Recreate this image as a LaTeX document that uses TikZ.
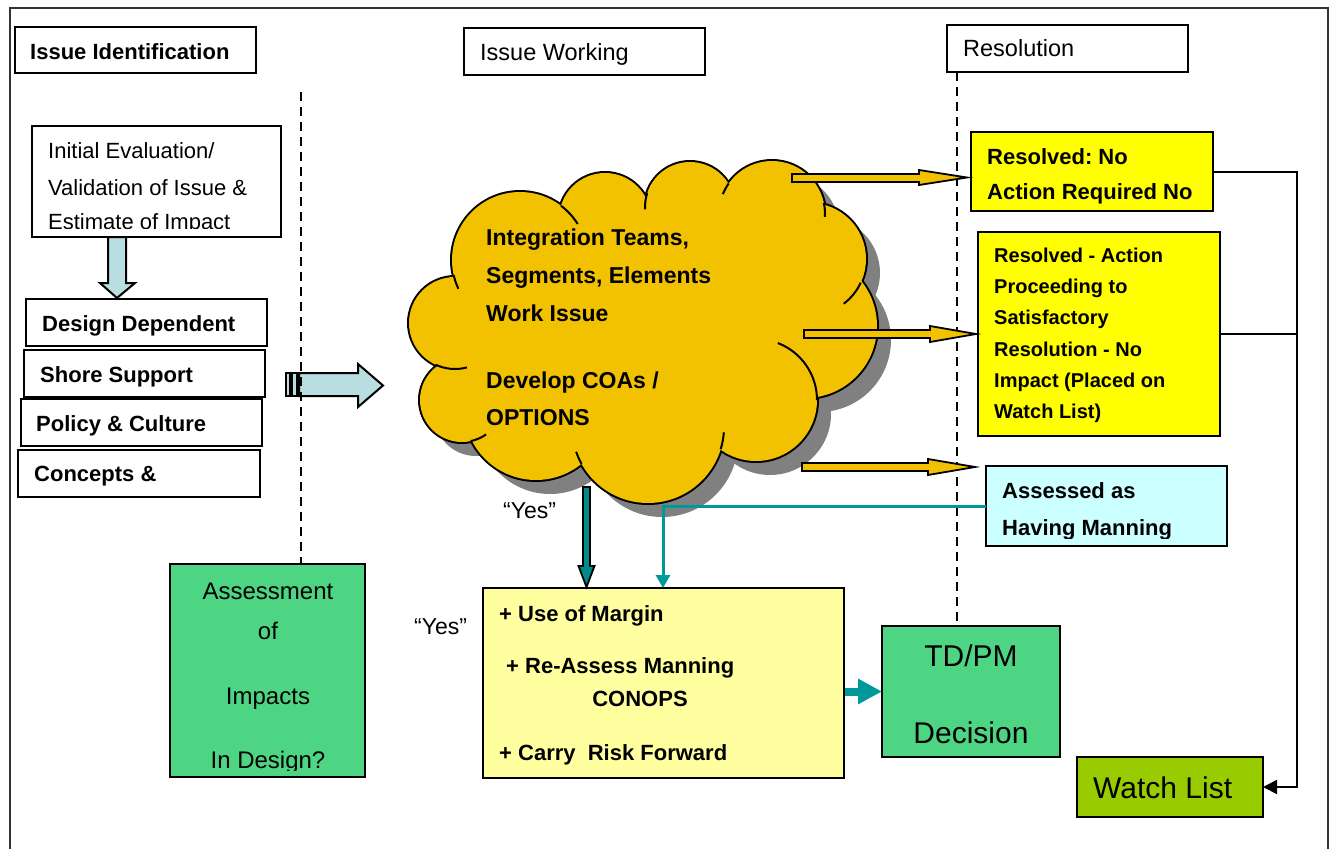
\documentclass[tikz,border=0pt]{standalone}
\usepackage{fontspec}
\setmainfont{Liberation Sans}
\usetikzlibrary{arrows.meta}
\definecolor{cloudgold}{HTML}{F2C200}
\definecolor{cloudgrey}{HTML}{808080}
\definecolor{paleblue}{HTML}{B8DEE2}
\definecolor{midgreen}{HTML}{4DD584}
\definecolor{wlgreen}{HTML}{99CC00}
\definecolor{paleyel}{HTML}{FFFFA0}
\definecolor{paleaqua}{HTML}{CCFFFF}
\definecolor{brightyel}{HTML}{FFFF00}
\definecolor{teallight}{HTML}{009999}
\definecolor{tealdark}{HTML}{008B8B}
\frenchspacing
\begin{document}
\begin{tikzpicture}[x=1pt,y=-1pt,
  bx/.style={draw=black,line width=2pt,inner sep=0pt,outer sep=0pt,anchor=north west},
  tl/.style={inner sep=0pt,anchor=base west},
  tc/.style={inner sep=0pt,anchor=base},
  fb22/.style={font=\fontsize{22}{26}\selectfont\bfseries},
  fb23/.style={font=\fontsize{23}{27}\selectfont\bfseries},
  fb20/.style={font=\fontsize{20}{24}\selectfont\bfseries},
  fr22/.style={font=\fontsize{22}{26}\selectfont},
  fr23/.style={font=\fontsize{23}{27}\selectfont},
  fr235/.style={font=\fontsize{23.5}{27}\selectfont},
  fr24/.style={font=\fontsize{24}{28}\selectfont},
  fr30/.style={font=\fontsize{30}{34}\selectfont},
  dashline/.style={line width=2pt,dash pattern=on 9pt off 6pt},
  blockarrow/.style={draw=black,line width=2pt,miter limit=4},
  goldarrow/.style={fill=cloudgold,draw=black,line width=1.8pt},
  wire/.style={draw=black,line width=2pt},
]
\useasboundingbox (0,0) rectangle (1332,848);

% outer frame
\draw[line width=2pt,black!80] (10,870) -- (10,8) -- (1328,8) -- (1328,870);

% phase headers
\node[bx,minimum width=241pt,minimum height=46pt] (hId) at (15,27) {};
\node[tl,fb22] (hIdT) at (30,60) {Issue Identification};
\node[bx,minimum width=241pt,minimum height=47pt] (hWk) at (464,28) {};
\node[tl,fr235] (hWkT) at (480,61) {Issue Working};
\node[bx,minimum width=241pt,minimum height=47pt] (hRs) at (947,25) {};
\node[tl,fr235] (hRsT) at (963,57) {Resolution};

% phase separators
\coordinate (dashL) at (301,92);
\coordinate (dashR) at (957,72);

% issue identification column
\node[bx,minimum width=249pt,minimum height=111pt] (init) at (32,126) {};
\node[tl,fr22] (initA) at (48,158) {Initial Evaluation/};
\node[tl,fr22] (initB) at (48,195) {Validation of Issue \&};
\begin{scope}
  \clip (32,126) rectangle (281,228);
  \node[tl,fr22] (initC) at (48,229) {Estimate of Impact};
\end{scope}

\draw[blockarrow,fill=paleblue] (108,237) -- (126,237) -- (126,283) -- (135,283)
  -- (117,298) -- (100,283) -- (108,283) -- cycle;

\node[bx,minimum width=241pt,minimum height=47pt] (sDes) at (26,299) {};
\node[tl,fb22] (sDesT) at (42,331) {Design Dependent};
\node[bx,minimum width=241pt,minimum height=47pt] (sSho) at (24,350) {};
\node[tl,fb22] (sShoT) at (40,382) {Shore Support};
\node[bx,minimum width=241pt,minimum height=47pt] (sPol) at (21,399) {};
\node[tl,fb22] (sPolT) at (36,431) {Policy \& Culture};
\node[bx,minimum width=242pt,minimum height=47pt] (sCon) at (18,450) {};
\node[tl,fb22] (sConT) at (34,481) {Concepts \&};

% striped arrow into the working phase
\draw[blockarrow,fill=paleblue] (286,373) rectangle (290,396);
\draw[blockarrow,fill=paleblue] (292,373) rectangle (297,396);
\draw[blockarrow,fill=paleblue] (299,373) -- (358,373) -- (358,364) -- (383,385.5)
  -- (358,407) -- (358,396) -- (299,396) -- cycle;

% assessment box
\node[bx,fill=midgreen,minimum width=195pt,minimum height=213pt] (asmt) at (170,564) {};
\node[tc,fr24] (asmtA) at (268,599) {Assessment};
\node[tc,fr24] (asmtB) at (268,639) {of};
\node[tc,fr24] (asmtC) at (268,704) {Impacts};
\begin{scope}
  \clip (170,564) rectangle (365,770);
  \node[tc,fr24] (asmtD) at (268,768) {In Design?};
\end{scope}

\draw[dashline] (dashL) -- (dashL |- asmt.north);

% working cloud: union of lobes with a drop shadow
\def\cloudbumps{455/323/46, 462/400/42, 520/260/68, 605/219/46, 690/207/45,
  772/214/53, 810/259/56, 805/326/72, 756/400/61, 648/427/76, 536/408/72}
\def\cloudcore{510/350/40, 720/260/40, 560/300/50, 640/300/70, 760/320/45,
  600/400/45, 700/390/45}
\begin{scope}[shift={(14,14)}]
  \foreach \cx/\cy/\r in \cloudbumps {\fill[cloudgrey] (\cx,\cy) circle[radius=\r];}
  \fill[cloudgrey] (640,330) ellipse[x radius=150,y radius=110];
\end{scope}
\foreach \cx/\cy/\r in \cloudbumps {\draw[line width=4pt] (\cx,\cy) circle[radius=\r];}
\foreach \cx/\cy/\r in \cloudbumps {\fill[cloudgold] (\cx,\cy) circle[radius=\r];}
\foreach \cx/\cy/\r in \cloudcore {\fill[cloudgold] (\cx,\cy) circle[radius=\r];}
\fill[cloudgold] (640,330) ellipse[x radius=150,y radius=110];
% inner folds of the cloud outline
\begin{scope}[line width=2pt]
  \draw (520,260) ++(167:68) arc[start angle=167,end angle=155,radius=68];
  \draw (520,260) ++(-53:68) arc[start angle=-53,end angle=-32,radius=68];
  \draw (690,207) ++(198:45) arc[start angle=198,end angle=177,radius=45];
  \draw (772,214) ++(215:53) arc[start angle=215,end angle=202,radius=53];
  \draw (772,214) ++(-12:53) arc[start angle=-12,end angle=3,radius=53];
  \draw (810,259) ++(25:56) arc[start angle=25,end angle=53,radius=56];
  \draw (756,400) ++(0:61) arc[start angle=0,end angle=-69,radius=61];
  \draw (648,427) ++(17:76) arc[start angle=17,end angle=4,radius=76];
  \draw (648,427) ++(151:76) arc[start angle=151,end angle=161,radius=76];
  \draw (462,400) ++(78:42) arc[start angle=78,end angle=55,radius=42];
  \draw (455,323) ++(115:46) arc[start angle=115,end angle=75,radius=46];
\end{scope}
\node[tl,fb23] (cldA) at (486,245) {Integration Teams,};
\node[tl,fb23] (cldB) at (486,283) {Segments, Elements};
\node[tl,fb23] (cldC) at (486,321) {Work Issue};
\node[tl,fb23] (cldD) at (486,388) {Develop COAs /};
\node[tl,fb23] (cldE) at (486,425) {OPTIONS};

% resolution column
\draw[dashline] (dashR) -- (dashR |- 0,626);

\node[bx,fill=brightyel,minimum width=242pt,minimum height=79pt] (r1) at (971,132) {};
\node[tl,fb22] (r1A) at (987,164) {Resolved: No};
\node[tl,fb22] (r1B) at (987,199) {Action Required No};

\node[bx,fill=brightyel,minimum width=242pt,minimum height=204pt] (r2) at (978,232) {};
\node[tl,fb20] (r2A) at (994,262) {Resolved - Action};
\node[tl,fb20] (r2B) at (994,293) {Proceeding to};
\node[tl,fb20] (r2C) at (994,324) {Satisfactory};
\node[tl,fb20] (r2D) at (994,356) {Resolution - No};
\node[tl,fb20] (r2E) at (994,387) {Impact (Placed on};
\node[tl,fb20] (r2F) at (994,418) {Watch List)};

\node[bx,fill=paleaqua,minimum width=241pt,minimum height=80pt] (r3) at (986,466) {};
\node[tl,fb22] (r3A) at (1002,498) {Assessed as};
\begin{scope}
  \clip (986,466) rectangle (1227,538);
  \node[tl,fb22] (r3B) at (1002,535) {Having Manning};
\end{scope}

% outcome arrows leaving the cloud
\draw[goldarrow] (792,174) -- (919,174) -- (919,170) -- (967,177.5) -- (919,185)
  -- (919,182) -- (792,182) -- cycle;
\draw[goldarrow] (804,330) -- (930,330) -- (930,326) -- (976,334) -- (930,342)
  -- (930,338) -- (804,338) -- cycle;
\draw[goldarrow] (802,463) -- (928,463) -- (928,459) -- (975,467) -- (928,475)
  -- (928,471) -- (802,471) -- cycle;

% options box and decision
\node[bx,fill=paleyel,minimum width=361pt,minimum height=190pt] (opts) at (483,588) {};
\node[tl,fb22] (optA) at (499,621) {+ Use of Margin};
\node[tl,fb22] (optB) at (506,673) {+ Re-Assess Manning};
\node[tc,fb22] (optC) at (640,706) {CONOPS};
\node[tl,fb22] (optD) at (499,760) {+ Carry\ \ Risk Forward};

\node[bx,fill=midgreen,minimum width=178pt,minimum height=131pt] (tdpm) at (882,626) {};
\node[tc,fr30] (tdpmA) at (971,666) {TD/PM};
\node[tc,fr30] (tdpmB) at (971,743) {Decision};

\node[bx,fill=wlgreen,minimum width=186pt,minimum height=60pt] (wl) at (1077,757) {};
\node[tl,fr30] (wlT) at (1093,798) {Watch List};

% "Yes" path from the cloud
\draw[blockarrow,line width=1.8pt,fill=tealdark] (583,487) -- (590,487) -- (590,566)
  -- (594.5,566) -- (586.5,587) -- (578.5,566) -- (583,566) -- cycle;
\node[tl,fr23] (yes1) at (503,518) {“Yes”};
\node[tl,fr23] (yes2) at (414,634) {“Yes”};

% manning path back to the options
\coordinate (tealTurn) at (663,506);
\draw[line width=3pt,teallight,-{Triangle[length=13pt,width=14pt]}]
  (r3.west) -- (tealTurn) -- (tealTurn |- opts.north);

% options to decision
\draw[line width=8pt,teallight,-{Triangle[length=24pt,width=24pt]}]
  ([xshift=1pt]opts.east |- tdpm.west) -- (tdpm.west);

% resolved items feed the watch list
\coordinate (busX) at (1297,0);
\draw[wire] (r2.east) -- (r2.east -| busX);
\draw[wire,-{Triangle[length=14pt,width=14pt]}] (r1.east) -- (r1.east -| busX) |- (wl.east);
\end{tikzpicture}
\end{document}
